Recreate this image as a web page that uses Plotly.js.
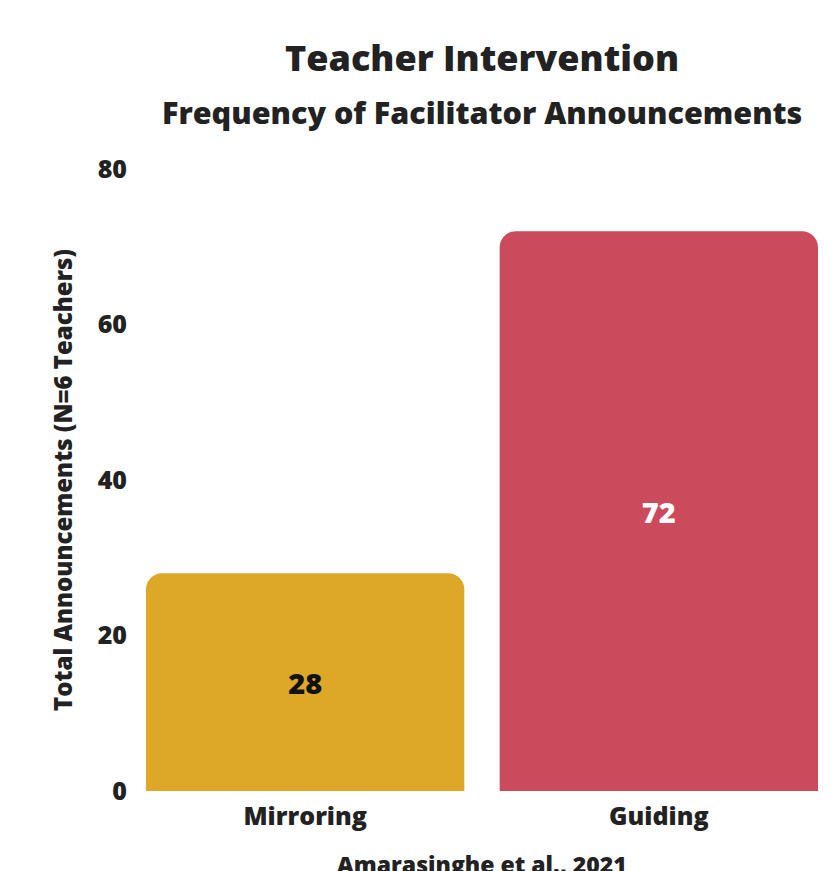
<!DOCTYPE html>
<html>
<head>
<meta charset="utf-8">
<script src="https://cdn.plot.ly/plotly-3.0.1.min.js"></script>
<style>html,body{margin:0;padding:0;background:#fff;}#chart{width:831px;height:871px;}</style>
</head>
<body>
<div id="chart"></div>
<script>
const categories = ["Mirroring", "Guiding"];
const values = [28, 72];
const barColors = ["#DDA727", "#CB4A5C"];
const labelColors = ["#111111", "#ffffff"];
const yTicks = [0, 20, 40, 60, 80];

const FONT = "'Open Sans', Lato, sans-serif";

const trace = {
  type: "bar",
  x: categories,
  y: values,
  width: 0.9,
  marker: { color: barColors, cornerradius: 16 },
  text: values.map(String),
  textposition: "inside",
  insidetextanchor: "middle",
  textangle: 0,
  textfont: { family: FONT, size: 29, color: labelColors, weight: 800 },
  hoverinfo: "none"
};

const layout = {
  width: 831,
  height: 871,
  margin: { l: 146, r: 13, t: 169, b: 80 },
  paper_bgcolor: "#ffffff",
  plot_bgcolor: "#ffffff",
  showlegend: false,
  xaxis: {
    range: [-0.45, 1.45],
    showgrid: false,
    zeroline: false,
    showline: false,
    ticks: "",
    ticklabelstandoff: 8,
    tickfont: { family: FONT, size: 25, color: "#222222", weight: 800 },
    fixedrange: true
  },
  yaxis: {
    range: [0, 80],
    tickvals: yTicks,
    ticktext: yTicks.map(String),
    showgrid: false,
    zeroline: false,
    showline: false,
    ticks: "",
    ticklabelstandoff: 18,
    tickfont: { family: FONT, size: 25, color: "#222222", weight: 800 },
    fixedrange: true
  },
  annotations: [
    { text: "Teacher Intervention", xref: "paper", yref: "paper", x: 0.5, y: (871 - 57 - 80) / 622, xanchor: "center", yanchor: "middle", showarrow: false,
      font: { family: FONT, size: 36, color: "#222222", weight: 800 } },
    { text: "Frequency of Facilitator Announcements", xref: "paper", yref: "paper", x: 0.5, y: (871 - 112 - 80) / 622, xanchor: "center", yanchor: "middle", showarrow: false,
      font: { family: FONT, size: 30.5, color: "#222222", weight: 800 } },
    { text: "Total Announcements (N=6 Teachers)", xref: "paper", yref: "paper", x: (62 - 146) / 672, y: (871 - 480 - 80) / 622, xanchor: "center", yanchor: "middle", textangle: -90, showarrow: false,
      font: { family: FONT, size: 24, color: "#222222", weight: 800 } },
    { text: "Amarasinghe et al., 2021", xref: "paper", yref: "paper", x: 0.5, y: (871 - 864 - 80) / 622, xanchor: "center", yanchor: "middle", showarrow: false,
      font: { family: FONT, size: 23, color: "#222222", weight: 800 } }
  ]
};

Plotly.newPlot("chart", [trace], layout, { displayModeBar: false, staticPlot: true });
</script>
</body>
</html>
